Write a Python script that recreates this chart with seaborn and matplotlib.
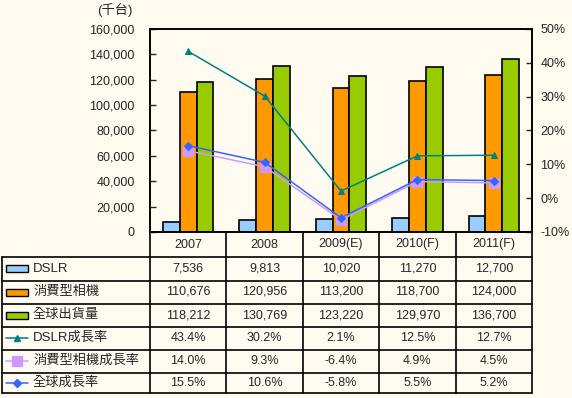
import pandas as pd
import numpy as np
import matplotlib
matplotlib.use("Agg")
import matplotlib.pyplot as plt
import seaborn as sns
from matplotlib.patches import Rectangle
from matplotlib.lines import Line2D

# data
years = ["2007", "2008", "2009(E)", "2010(F)", "2011(F)"]
dslr = [7536, 9813, 10020, 11270, 12700]
consumer = [110676, 120956, 113200, 118700, 124000]
total = [118212, 130769, 123220, 129970, 136700]
dslr_growth = [43.4, 30.2, 2.1, 12.5, 12.7]
consumer_growth = [14.0, 9.3, -6.4, 4.9, 4.5]
total_growth = [15.5, 10.6, -5.8, 5.5, 5.2]

bar_names = ["DSLR", "消費型相機", "全球出貨量"]
line_names = ["DSLR成長率", "消費型相機成長率", "全球成長率"]
bar_colors = ["#99CCFF", "#FF9900", "#99CC00"]
line_colors = ["#008080", "#CC99FF", "#3366FF"]
line_markers = ["^", "s", "D"]
line_msize = [5, 7, 4]

bg = "#FFFBF0"
sns.set_style("white")
plt.rcParams["font.family"] = ["Liberation Sans", "Noto Sans CJK TC"]
plt.rcParams["font.size"] = 9

W, H = 572, 398
fig = plt.figure(figsize=(W / 100, H / 100), dpi=100, facecolor=bg)

# plot area in pixels
x0, x1, y0, y1 = 150, 532, 29, 232
ax = fig.add_axes([x0 / W, 1 - y1 / H, (x1 - x0) / W, (y1 - y0) / H])
ax.set_facecolor(bg)

bars = pd.DataFrame({
    "year": years * 3,
    "series": sum([[n] * 5 for n in bar_names], []),
    "value": dslr + consumer + total,
})
sns.barplot(data=bars, x="year", y="value", hue="series", palette=bar_colors,
            width=0.66, edgecolor="black", linewidth=1.2, saturation=1,
            legend=False, ax=ax)
ax.set_ylim(0, 160000)
ax.set_xlim(-0.5, 4.5)
ax.set_yticks(range(0, 160001, 20000))
ax.set_yticklabels([f"{v:,}" for v in range(0, 160001, 20000)])
ax.set_xticks([])
ax.set_xlabel("")
ax.set_ylabel("")
ax.tick_params(axis="y", direction="in", length=4, width=1, pad=11, left=True)
for s in ax.spines.values():
    s.set_color("black")
    s.set_linewidth(1.2)

ax2 = ax.twinx()
lines = pd.DataFrame({
    "x": list(range(5)) * 3,
    "series": sum([[n] * 5 for n in line_names], []),
    "value": [v / 100 for v in dslr_growth + consumer_growth + total_growth],
})
for name, c, m, ms in zip(line_names, line_colors, line_markers, line_msize):
    sub = lines[lines.series == name]
    sns.lineplot(data=sub, x="x", y="value", color=c, marker=m, markersize=ms,
                 markeredgecolor=c, linewidth=1.1, ax=ax2)
ax2.set_ylim(-0.1, 0.5)
ax2.set_xlim(-0.5, 4.5)
ax2.set_yticks(np.arange(-0.1, 0.51, 0.1))
ax2.set_yticklabels([f"{int(round(v * 100))}%" for v in np.arange(-0.1, 0.51, 0.1)])
ax2.set_xlabel("")
ax2.set_ylabel("")
ax2.tick_params(axis="y", direction="in", length=4, width=1, pad=6, right=True)
for s in ax2.spines.values():
    s.set_color("black")
    s.set_linewidth(1.2)

fig.text(97 / W, 1 - 10 / H, "(千台)", ha="left", va="center", fontsize=9.5)

# data table drawn in pixel coordinates
tab = fig.add_axes([0, 0, 1, 1], facecolor="none")
tab.set_xlim(0, W)
tab.set_ylim(H, 0)
tab.axis("off")

col_x = [x0 + (x1 - x0) * k / 5 for k in range(6)]
row_y = [232, 257, 280.5, 303.5, 326.5, 349.5, 372.5, 393]
lk = dict(color="black", linewidth=1.2)
for cx in col_x:
    tab.add_line(Line2D([cx, cx], [row_y[0], row_y[-1]], **lk))
tab.add_line(Line2D([2, 2], [row_y[1], row_y[-1]], **lk))
for ry in row_y[1:]:
    tab.add_line(Line2D([2, x1], [ry, ry], **lk))

for k, yr in enumerate(years):
    tab.text((col_x[k] + col_x[k + 1]) / 2, (row_y[0] + row_y[1]) / 2, yr,
             ha="center", va="center")

rows = [[f"{v:,}" for v in dslr], [f"{v:,}" for v in consumer],
        [f"{v:,}" for v in total], [f"{v:.1f}%" for v in dslr_growth],
        [f"{v:.1f}%" for v in consumer_growth], [f"{v:.1f}%" for v in total_growth]]
labels = bar_names + line_names
for r, (lab, vals) in enumerate(zip(labels, rows)):
    cy = (row_y[r + 1] + row_y[r + 2]) / 2
    if r < 3:
        tab.add_patch(Rectangle((6, cy - 3.5), 22, 7, facecolor=bar_colors[r],
                                edgecolor="black", linewidth=1))
    else:
        i = r - 3
        tab.add_line(Line2D([6, 28], [cy, cy], color=line_colors[i], linewidth=1.1))
        tab.add_line(Line2D([17], [cy], color=line_colors[i], marker=line_markers[i],
                            markersize=line_msize[i], markeredgecolor=line_colors[i]))
    tab.text(33, cy, lab, ha="left", va="center", fontsize=9.5)
    for k, v in enumerate(vals):
        tab.text((col_x[k] + col_x[k + 1]) / 2, cy, v, ha="center", va="center")

fig.savefig("out.png", dpi=100, facecolor=bg)
